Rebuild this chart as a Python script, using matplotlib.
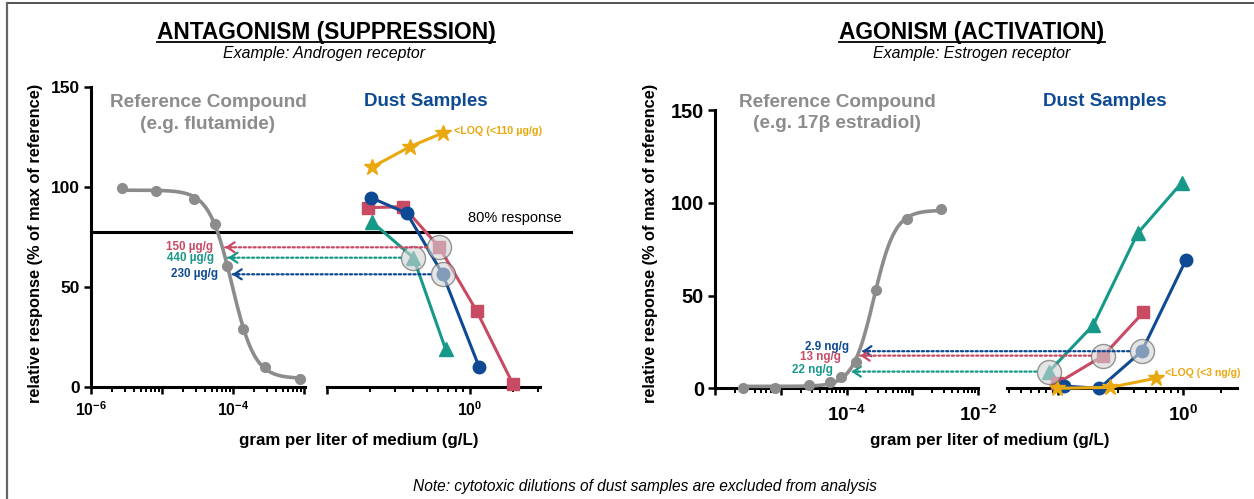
import numpy as np
import matplotlib
matplotlib.use("Agg")
import matplotlib.pyplot as plt
from matplotlib.patches import ConnectionPatch
from matplotlib.lines import Line2D
from matplotlib.ticker import LogLocator, NullFormatter

plt.rcParams['font.family'] = ['Liberation Sans', 'DejaVu Sans']
plt.rcParams['mathtext.fontset'] = 'custom'
plt.rcParams['mathtext.rm'] = 'Liberation Sans:bold'
plt.rcParams['mathtext.bf'] = 'Liberation Sans:bold'
plt.rcParams['mathtext.it'] = 'Liberation Sans:bold:italic'

# ---- data (g/L, % of max of reference) ----
# antagonism, reference compound (flutamide)
anta_ref_conc = [2.7e-6, 8.3e-6, 2.8e-5, 5.6e-5, 8.3e-5, 1.4e-4, 2.8e-4, 8.7e-4]
anta_ref_resp = [99.2, 98.0, 93.8, 81.2, 60.3, 28.8, 10.0, 3.8]
# antagonism, dust samples
anta_yellow_conc = [0.206, 0.381, 0.652]
anta_yellow_resp = [109.7, 120.0, 127.0]
anta_blue_conc = [0.204, 0.363, 0.646, 1.156]
anta_blue_resp = [94.5, 86.7, 56.2, 10.0]
anta_pink_conc = [0.193, 0.343, 0.611, 1.114, 1.995]
anta_pink_resp = [89.5, 90.0, 69.7, 37.8, 1.3]
anta_teal_conc = [0.206, 0.403, 0.676]
anta_teal_resp = [82.5, 64.5, 18.7]
anta_threshold = 77.5
anta_labels = ['150 µg/g', '440 µg/g', '230 µg/g']   # pink, teal, blue
anta_hilite = [2, 1, 2]                              # index of the circled point

# agonism, reference compound (17b estradiol)
ago_ref_conc = [2.7e-6, 8.1e-6, 2.7e-5, 5.5e-5, 8.1e-5, 1.38e-4, 2.75e-4, 8.3e-4, 2.75e-3]
ago_ref_resp = [0.0, 0.0, 1.8, 3.6, 6.3, 14.3, 53.0, 91.2, 96.4]
# agonism, dust samples
ago_teal_conc = [0.084, 0.19, 0.43, 0.97]
ago_teal_resp = [9.0, 34.0, 83.5, 110.8]
ago_pink_conc = [0.098, 0.229, 0.479]
ago_pink_resp = [2.7, 17.6, 41.0]
ago_blue_conc = [0.111, 0.213, 0.465, 1.045]
ago_blue_resp = [1.2, 0.0, 20.0, 69.0]
ago_yellow_conc = [0.097, 0.259, 0.601]
ago_yellow_resp = [0.0, 0.5, 5.4]
ago_labels = ['2.9 ng/g', '13 ng/g', '22 ng/g']      # blue, pink, teal
ago_hilite = [2, 1, 0]

PINK = '#c94a63'
TEAL = '#17998a'
BLUE = '#0d4a93'
YELLOW = '#e8a80e'
GRAY = '#8c8c8c'

W, H = 1254, 499
fig = plt.figure(figsize=(12.54, 4.99), dpi=100)


def fx(x):
    return x / W


def fy(y):
    return 1 - y / H


def px_axes(x0, x1, ytop, ybot):
    ax = fig.add_axes([fx(x0), fy(ybot), (x1 - x0) / W, (ybot - ytop) / H])
    ax.set_facecolor('none')
    return ax


def fit_4pl(conc, resp):
    # simple grid-search four parameter logistic fit
    lx = np.log10(conc)
    y = np.asarray(resp)
    best = None
    for hill in np.linspace(0.4, 4, 73):
        for lec in np.linspace(lx.min(), lx.max(), 300):
            s = 1 / (1 + 10 ** ((lec - lx) * hill))
            A = np.column_stack([np.ones_like(s), s])
            coef = np.linalg.lstsq(A, y, rcond=None)[0]
            err = ((A @ coef - y) ** 2).sum()
            if best is None or err < best[0]:
                best = (err, coef[0], coef[1], lec, hill)
    return best[1:]


def curve_4pl(p, lx):
    b, span, lec, hill = p
    return b + span / (1 + 10 ** ((lec - lx) * hill))


def inv_4pl(p, y):
    b, span, lec, hill = p
    s = (y - b) / span
    return 10 ** (lec - np.log10(1 / s - 1) / hill)


def style(ax, xlim, majors, labels, fs, show_y, yfs=12.5, pad=5):
    ax.set_xscale('log')
    ax.set_xlim(*xlim)
    ax.set_ylim(0, 150)
    ax.set_xticks(majors, labels=labels)
    ax.xaxis.set_minor_locator(LogLocator(base=10, subs=np.arange(2, 10)))
    ax.xaxis.set_minor_formatter(NullFormatter())
    for s in ['top', 'right']:
        ax.spines[s].set_visible(False)
    ax.spines['bottom'].set_linewidth(2.2)
    ax.spines['left'].set_linewidth(2.2)
    ax.tick_params(axis='x', which='major', length=5, width=1.8, labelsize=fs, pad=pad)
    ax.tick_params(axis='x', which='minor', length=3.5, width=1.4)
    if show_y:
        ax.set_yticks([0, 50, 100, 150])
        ax.tick_params(axis='y', length=5, width=1.8, labelsize=yfs, pad=3)
        for t in ax.get_yticklabels():
            t.set_fontweight('bold')
    else:
        ax.spines['left'].set_visible(False)
        ax.set_yticks([])


def ref_plot(ax, conc, resp, p):
    lx = np.linspace(np.log10(conc[0]), np.log10(conc[-1]), 200)
    ax.plot(10 ** lx, curve_4pl(p, lx), color=GRAY, lw=2.6, clip_on=False, zorder=3)
    ax.plot(conc, resp, 'o', color=GRAY, ms=7, clip_on=False, zorder=4)


def dust_plot(ax, conc, resp, color, marker, ms):
    ax.plot(conc, resp, color=color, lw=2.2, marker=marker, ms=ms, clip_on=False, zorder=5)


def hilite(ax, x, y):
    ax.scatter([x], [y], s=300, facecolor='#d3d3d3', edgecolor='#555555', lw=1.0,
               alpha=0.6, zorder=6, clip_on=False)


def link(ax_from, ax_to, x0, y, x1, color, label, dx, dy):
    con = ConnectionPatch(xyA=(x0, y), coordsA=ax_from.transData,
                          xyB=(x1, y), coordsB=ax_to.transData,
                          color=color, lw=1.6, linestyle=(0, (1, 1.2)),
                          shrinkA=9, shrinkB=2, zorder=2)
    fig.add_artist(con)
    ax_to.annotate('', xy=(x1, y), xytext=(7, 0), textcoords='offset points',
                   xycoords='data',
                   arrowprops=dict(arrowstyle='->,head_length=0.45,head_width=0.3',
                                   color=color, lw=1.6, shrinkA=0, shrinkB=2,
                                   mutation_scale=12),
                   annotation_clip=False)
    ax_to.annotate(label, xy=(x1, y), xytext=(dx, dy), textcoords='offset points',
                   ha='right', va='center', fontsize=8.4, fontweight='bold',
                   color=color, annotation_clip=False)


# ---------------- antagonism panel ----------------
ax1 = px_axes(91, 305, 86.7, 386.7)
ax2 = px_axes(326.7, 540, 86.7, 386.7)
style(ax1, (1e-6, 1.03e-3), [1e-6, 1e-5, 1e-4, 1e-3],
      [r'$10^{-6}$', '', r'$10^{-4}$', ''], 11.3, True)
style(ax2, (0.1, 3.08), [0.1, 1], ['', r'$10^{0}$'], 11.3, False)

p_anta = fit_4pl(anta_ref_conc, anta_ref_resp)
ref_plot(ax1, anta_ref_conc, anta_ref_resp, p_anta)
dust_plot(ax2, anta_yellow_conc, anta_yellow_resp, YELLOW, '*', 12)
dust_plot(ax2, anta_teal_conc, anta_teal_resp, TEAL, '^', 9.5)
dust_plot(ax2, anta_pink_conc, anta_pink_resp, PINK, 's', 8)
dust_plot(ax2, anta_blue_conc, anta_blue_resp, BLUE, 'o', 9)

ax1.axhline(anta_threshold, xmin=0, xmax=(570.7 - 91) / (305 - 91), color='black',
            lw=2.2, clip_on=False, zorder=1)

for (cx, cy), color, lab, i, off in zip(
        [(anta_pink_conc, anta_pink_resp), (anta_teal_conc, anta_teal_resp),
         (anta_blue_conc, anta_blue_resp)],
        [PINK, TEAL, BLUE], anta_labels, anta_hilite, [(-7, 0), (-8, 0), (-8.5, 0)]):
    hilite(ax2, cx[i], cy[i])
    link(ax2, ax1, cx[i], cy[i], inv_4pl(p_anta, cy[i]), color, lab, *off)

ax2.annotate('<LOQ (<110 µg/g)', xy=(anta_yellow_conc[-1], anta_yellow_resp[-1]),
             xytext=(7.5, 1.5), textcoords='offset points', ha='left', va='center',
             fontsize=7.7, fontweight='bold', color=YELLOW)

# ---------------- agonism panel ----------------
ax3 = px_axes(715, 978.3, 110, 388.3)
ax4 = px_axes(1006.7, 1236.7, 110, 388.3)
style(ax3, (1e-6, 1e-2), [1e-6, 1e-5, 1e-4, 1e-3, 1e-2],
      ['', '', r'$10^{-4}$', '', r'$10^{-2}$'], 13.7, True, yfs=14.4, pad=7)
style(ax4, (0.0386, 2.67), [0.1, 1], ['', r'$10^{0}$'], 13.7, False, pad=7)

p_ago = fit_4pl(ago_ref_conc, ago_ref_resp)
ref_plot(ax3, ago_ref_conc, ago_ref_resp, p_ago)
dust_plot(ax4, ago_teal_conc, ago_teal_resp, TEAL, '^', 9.5)
dust_plot(ax4, ago_pink_conc, ago_pink_resp, PINK, 's', 8)
dust_plot(ax4, ago_blue_conc, ago_blue_resp, BLUE, 'o', 9)
dust_plot(ax4, ago_yellow_conc, ago_yellow_resp, YELLOW, '*', 12)

for (cx, cy), color, lab, i, off in zip(
        [(ago_blue_conc, ago_blue_resp), (ago_pink_conc, ago_pink_resp),
         (ago_teal_conc, ago_teal_resp)],
        [BLUE, PINK, TEAL], ago_labels, ago_hilite, [(-7, 2.7), (-12, -1.0), (-11, 1.2)]):
    hilite(ax4, cx[i], cy[i])
    link(ax4, ax3, cx[i], cy[i], inv_4pl(p_ago, cy[i]), color, lab, *off)

ax4.annotate('<LOQ (<3 ng/g)', xy=(ago_yellow_conc[-1], ago_yellow_resp[-1]),
             xytext=(7, 3.5), textcoords='offset points', ha='left', va='center',
             fontsize=7.6, fontweight='bold', color=YELLOW, annotation_clip=False)

# ---------------- texts ----------------
t1 = fig.text(fx(326), fy(39), 'ANTAGONISM (SUPPRESSION)', ha='center', va='baseline',
              fontsize=16.4, fontweight='bold')
t2 = fig.text(fx(972), fy(39), 'AGONISM (ACTIVATION)', ha='center', va='baseline',
              fontsize=16.4, fontweight='bold')
fig.text(fx(324), fy(53.5), 'Example: Androgen receptor', ha='center', va='center',
         fontsize=11.4, style='italic')
fig.text(fx(972), fy(53.5), 'Example: Estrogen receptor', ha='center', va='center',
         fontsize=11.4, style='italic')

fig.text(fx(208), fy(113.5), 'Reference Compound\n(e.g. flutamide)', ha='center',
         va='center', fontsize=13.7, fontweight='bold', color=GRAY, linespacing=1.32)
fig.text(fx(837), fy(113), 'Reference Compound\n(e.g. 17β estradiol)', ha='center',
         va='center', fontsize=13.7, fontweight='bold', color=GRAY, linespacing=1.32)
fig.text(fx(426), fy(101), 'Dust Samples', ha='center', va='center',
         fontsize=13.5, fontweight='bold', color=BLUE)
fig.text(fx(1105), fy(101), 'Dust Samples', ha='center', va='center',
         fontsize=13.5, fontweight='bold', color=BLUE)
fig.text(fx(468), fy(218), '80% response', ha='left', va='center', fontsize=10.5)

for x in (36, 651):
    fig.text(fx(x), fy(243), 'relative response (% of max of reference)', rotation=90,
             ha='center', va='center', fontsize=11.8, fontweight='bold')
for x in (359, 990):
    fig.text(fx(x), fy(440), 'gram per liter of medium (g/L)', ha='center', va='center',
             fontsize=12.2, fontweight='bold')
fig.text(fx(645), fy(487), 'Note: cytotoxic dilutions of dust samples are excluded from analysis',
         ha='center', va='center', fontsize=11.2, style='italic')

# frame lines (top and left)
fig.add_artist(Line2D([fx(7), 1], [fy(3), fy(3)], color='#333333', lw=1.2))
fig.add_artist(Line2D([fx(7), fx(7)], [0, fy(3)], color='#666666', lw=1.6))

# underline the panel titles, just below the baseline
fig.canvas.draw()
r = fig.canvas.get_renderer()
for t in (t1, t2):
    bb = t.get_window_extent(r).transformed(fig.transFigure.inverted())
    fig.add_artist(Line2D([bb.x0, bb.x1], [fy(41.5), fy(41.5)],
                          color='black', lw=1.3))

fig.savefig('out.png', dpi=100)
